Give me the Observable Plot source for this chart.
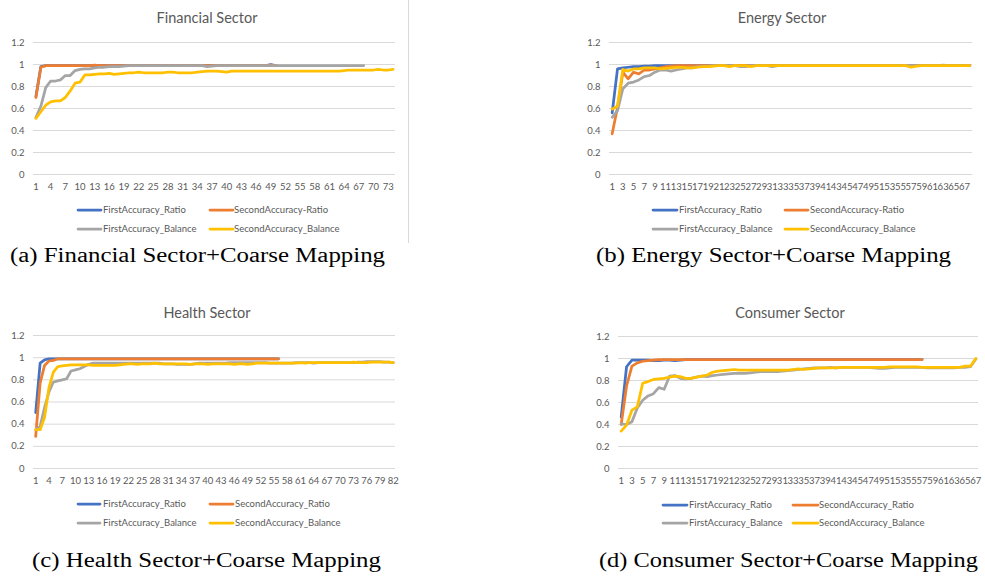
<!DOCTYPE html>
<html><head><meta charset="utf-8">
<script src="https://cdn.jsdelivr.net/npm/d3@7"></script>
<script src="https://cdn.jsdelivr.net/npm/@observablehq/plot@0.6"></script>
<style>
body{margin:0;background:#fff;}
#root{position:relative;width:985px;height:578px;overflow:hidden;background:#fff;}
#root > svg, #root > figure{position:absolute;margin:0;}
</style></head>
<body><div id="root"></div>
<script>
// ---------- shared ----------
const yTicks = [0, 0.2, 0.4, 0.6, 0.8, 1, 1.2];
const seriesColors = ["#4472C4", "#ED7D31", "#A5A5A5", "#FFC000"];

// ---------- (a) Financial ----------
const finTitle = "Financial Sector";
const finCaption = "(a) Financial Sector+Coarse Mapping";
const finLegend = ["FirstAccuracy_Ratio", "SecondAccuracy-Ratio", "FirstAccuracy_Balance", "SecondAccuracy_Balance"];
const finCount = 74;
const finTicks = [1,4,7,10,13,16,19,22,25,28,31,34,37,40,43,46,49,52,55,58,61,64,67,70,73];
const finFirstRatio = [0.71,0.98,0.99,0.99,0.99,0.99,0.99,0.99,0.99,0.99,
 0.99,0.99,0.99,0.99,0.99,0.99,0.99,0.99,0.99,0.99,
 0.99,0.99,0.99,0.99,0.99,0.99,0.99,0.99,0.99,0.99,
 0.99,0.99,0.99,0.99,0.99,0.99,0.99,0.99,0.99,0.99,
 0.99,0.99,0.99,0.99,0.99,0.99,0.99,0.99,1.0,0.99];
const finSecondRatio = [0.70,0.975,0.99,0.99,0.99,0.99,0.99,0.99,0.99,0.99,
 0.99,0.99,0.995,0.99,0.99,0.99,0.99,0.99,0.99,0.99,
 0.99,0.99,0.99,0.99,0.99,0.99,0.99,0.99,0.99,0.99,
 0.99,0.99,0.99,0.99,0.99,0.99,0.99,0.99,0.99,0.99,
 0.99,0.99,0.99,0.99,0.99,0.99,0.99,0.99,0.995,0.99];
const finFirstBalance = [0.52,0.62,0.79,0.85,0.85,0.86,0.90,0.90,0.945,0.955,
 0.96,0.96,0.97,0.975,0.975,0.98,0.98,0.98,0.985,0.99,
 0.99,0.99,0.99,0.99,0.99,0.99,0.99,0.99,0.99,0.99,
 0.99,0.99,0.99,0.99,0.99,0.98,0.985,0.99,0.99,0.99,
 0.99,0.99,0.99,0.99,0.99,0.99,0.99,0.99,0.99,0.99,
 0.99,0.99,0.99,0.99,0.99,0.99,0.99,0.99,0.99,0.99,
 0.99,0.99,0.99,0.99,0.99,0.99,0.99,0.99];
const finSecondBalance = [0.51,0.57,0.63,0.66,0.67,0.67,0.70,0.76,0.83,0.84,
 0.905,0.905,0.91,0.915,0.915,0.92,0.91,0.915,0.92,0.925,
 0.925,0.93,0.925,0.925,0.925,0.925,0.925,0.93,0.93,0.925,
 0.925,0.925,0.925,0.93,0.935,0.94,0.94,0.94,0.935,0.93,
 0.94,0.94,0.94,0.94,0.94,0.94,0.94,0.94,0.94,0.94,
 0.94,0.94,0.94,0.94,0.94,0.94,0.94,0.94,0.94,0.94,
 0.94,0.94,0.94,0.945,0.95,0.95,0.95,0.95,0.95,0.95,
 0.955,0.95,0.95,0.955];

// ---------- (b) Energy ----------
const enTitle = "Energy Sector";
const enCaption = "(b) Energy Sector+Coarse Mapping";
const enLegend = ["FirstAccuracy_Ratio", "SecondAccuracy-Ratio", "FirstAccuracy_Balance", "SecondAccuracy_Balance"];
const enCount = 68;
const enTicks = [1,3,5,7,9,11,13,15,17,19,21,23,25,27,29,31,33,35,37,39,41,43,45,47,49,51,53,55,57,59,61,63,65,67];
const enFirstRatio = [0.56,0.96,0.97,0.975,0.98,0.98,0.985,0.985,0.99,0.99,
 0.99,0.99,0.99,0.99,0.99,0.99,0.99,0.99,0.99,0.99,
 0.99,0.99,0.99,0.99,0.99,0.99,0.99,0.99,0.99,0.99,
 0.99,0.99,0.99,0.99,0.99,0.99,0.99,0.99,0.99,0.99,
 0.99,0.99,0.99,0.99,0.99,0.99,0.99,0.99,0.99,0.99,
 0.99,0.99,0.99,0.99,0.99,0.99,0.99,0.99,0.99,0.99,
 0.99,0.99,0.99,0.99,0.99,0.99,0.99,0.99];
const enSecondRatio = [0.37,0.61,0.93,0.87,0.93,0.915,0.95,0.95,0.96,0.97,
 0.98,0.985,0.99,0.99,0.99,0.99,0.99,0.99,0.99,0.99,
 0.99,0.99,0.99,0.99,0.99,0.99,0.99,0.99,0.99,0.99,
 0.99,0.99,0.99,0.99,0.99,0.99,0.99,0.99,0.99,0.99,
 0.99,0.99,0.99,0.99,0.99,0.99,0.99,0.99,0.99,0.99,
 0.99,0.99,0.99,0.99,0.99,0.99,0.99,0.99,0.99,0.99,
 0.99,0.99,0.99,0.99,0.99,0.99,0.99,0.99];
const enFirstBalance = [0.52,0.58,0.78,0.83,0.84,0.86,0.89,0.90,0.93,0.95,
 0.95,0.94,0.95,0.96,0.97,0.97,0.98,0.98,0.985,0.99,
 0.99,0.99,0.99,0.99,0.98,0.98,0.99,0.99,0.99,0.99,
 0.98,0.99,0.99,0.99,0.99,0.99,0.99,0.99,0.99,0.99,
 0.99,0.99,0.99,0.99,0.99,0.99,0.99,0.99,0.99,0.99,
 0.99,0.99,0.99,0.99,0.99,0.99,0.99,0.99,0.99,0.99,
 0.99,0.99,0.995,0.99,0.99,0.99,0.99,0.99];
const enSecondBalance = [0.595,0.62,0.955,0.94,0.96,0.96,0.97,0.97,0.97,0.96,
 0.965,0.97,0.975,0.975,0.97,0.97,0.975,0.98,0.98,0.985,
 0.99,0.99,0.98,0.99,0.99,0.99,0.98,0.99,0.99,0.99,
 0.99,0.99,0.99,0.99,0.99,0.99,0.99,0.99,0.99,0.99,
 0.99,0.99,0.99,0.99,0.99,0.99,0.99,0.99,0.99,0.99,
 0.99,0.99,0.99,0.99,0.99,0.99,0.975,0.985,0.99,0.99,
 0.99,0.99,0.99,0.99,0.99,0.99,0.99,0.99];

// ---------- (c) Health ----------
const heTitle = "Health Sector";
const heCaption = "(c) Health Sector+Coarse Mapping";
const heLegend = ["FirstAccuracy_Ratio", "SecondAccuracy_Ratio", "FirstAccuracy_Balance", "SecondAccuracy_Balance"];
const heCount = 82;
const heTicks = [1,4,7,10,13,16,19,22,25,28,31,34,37,40,43,46,49,52,55,58,61,64,67,70,73,76,79,82];
const heFirstRatio = [0.505,0.95,0.98,0.99,0.99,0.99,0.99,0.99,0.99,0.99,
 0.99,0.99,0.99,0.99,0.99,0.99,0.99,0.99,0.99,0.99,
 0.99,0.99,0.99,0.99,0.99,0.99,0.99,0.99,0.99,0.99,
 0.99,0.99,0.99,0.99,0.99,0.99,0.99,0.99,0.99,0.99,
 0.99,0.99,0.99,0.99,0.99,0.99,0.99,0.99,0.99,0.99,
 0.99,0.99,0.99,0.99,0.99,0.99];
const heSecondRatio = [0.29,0.77,0.93,0.97,0.975,0.99,0.99,0.99,0.99,0.99,
 0.99,0.99,0.99,0.99,0.99,0.99,0.99,0.99,0.99,0.99,
 0.99,0.99,0.99,0.99,0.99,0.99,0.99,0.99,0.99,0.99,
 0.99,0.99,0.99,0.99,0.99,0.99,0.99,0.99,0.99,0.99,
 0.99,0.99,0.99,0.99,0.99,0.99,0.99,0.99,0.99,0.99,
 0.99,0.99,0.99,0.99,0.99,0.99];
const heFirstBalance = [0.35,0.38,0.55,0.69,0.78,0.79,0.80,0.81,0.88,0.89,
 0.90,0.92,0.94,0.95,0.95,0.95,0.95,0.95,0.95,0.95,
 0.95,0.95,0.95,0.95,0.95,0.95,0.95,0.95,0.95,0.945,
 0.945,0.945,0.94,0.94,0.94,0.94,0.945,0.95,0.95,0.95,
 0.95,0.95,0.95,0.95,0.955,0.955,0.955,0.955,0.955,0.955,
 0.955,0.955,0.955,0.95,0.95,0.95,0.95,0.95,0.95,0.955,
 0.955,0.955,0.955,0.95,0.955,0.955,0.955,0.955,0.955,0.955,
 0.955,0.955,0.955,0.96,0.96,0.965,0.965,0.965,0.965,0.96,
 0.96,0.955];
const heSecondBalance = [0.35,0.35,0.46,0.73,0.87,0.92,0.925,0.93,0.935,0.935,
 0.935,0.935,0.935,0.93,0.93,0.93,0.93,0.93,0.93,0.935,
 0.94,0.945,0.945,0.94,0.945,0.945,0.945,0.95,0.945,0.945,
 0.945,0.945,0.945,0.945,0.945,0.94,0.945,0.945,0.945,0.94,
 0.945,0.945,0.945,0.945,0.945,0.94,0.945,0.945,0.94,0.945,
 0.95,0.95,0.95,0.95,0.95,0.95,0.95,0.95,0.95,0.95,
 0.955,0.95,0.955,0.955,0.955,0.955,0.955,0.955,0.955,0.955,
 0.955,0.955,0.96,0.955,0.955,0.955,0.96,0.96,0.96,0.96,
 0.96,0.955];

// ---------- (d) Consumer ----------
const coTitle = "Consumer Sector";
const coCaption = "(d) Consumer Sector+Coarse Mapping";
const coLegend = ["FirstAccuracy_Ratio", "SecondAccuracy_Ratio", "FirstAccuracy_Balance", "SecondAccuracy_Balance"];
const coCount = 67;
const coTicks = [1,3,5,7,9,11,13,15,17,19,21,23,25,27,29,31,33,35,37,39,41,43,45,47,49,51,53,55,57,59,61,63,65,67];
const coFirstRatio = [0.47,0.925,0.985,0.985,0.985,0.985,0.98,0.98,0.985,0.985,
 0.98,0.985,0.99,0.99,0.99,0.99,0.99,0.99,0.99,0.99,
 0.99,0.99,0.99,0.99,0.99,0.99,0.99,0.99,0.99,0.99,
 0.99,0.99,0.99,0.99,0.99,0.99,0.99,0.99,0.99,0.99,
 0.99,0.99,0.99,0.99,0.99,0.99,0.99,0.99,0.99,0.99,
 0.99,0.99,0.99,0.99,0.99,0.99,0.99];
const coSecondRatio = [0.40,0.75,0.93,0.96,0.975,0.98,0.985,0.99,0.99,0.99,
 0.99,0.99,0.99,0.99,0.99,0.99,0.99,0.99,0.99,0.99,
 0.99,0.99,0.99,0.99,0.99,0.99,0.99,0.99,0.99,0.99,
 0.99,0.99,0.99,0.99,0.99,0.99,0.99,0.99,0.99,0.99,
 0.99,0.99,0.99,0.99,0.99,0.99,0.99,0.99,0.99,0.99,
 0.99,0.99,0.99,0.99,0.99,0.99,0.99];
const coFirstBalance = [0.405,0.40,0.425,0.55,0.62,0.66,0.68,0.735,0.72,0.84,
 0.845,0.82,0.815,0.82,0.83,0.84,0.835,0.845,0.85,0.855,
 0.86,0.865,0.865,0.865,0.87,0.875,0.88,0.88,0.88,0.88,
 0.885,0.89,0.895,0.90,0.905,0.91,0.915,0.915,0.915,0.92,
 0.915,0.92,0.92,0.92,0.92,0.92,0.92,0.915,0.91,0.91,
 0.915,0.92,0.92,0.92,0.92,0.92,0.92,0.915,0.915,0.915,
 0.915,0.915,0.915,0.92,0.92,0.925,0.995];
const coSecondBalance = [0.34,0.395,0.53,0.56,0.775,0.79,0.81,0.815,0.82,0.83,
 0.84,0.835,0.82,0.82,0.83,0.84,0.85,0.875,0.885,0.89,
 0.895,0.90,0.895,0.895,0.895,0.895,0.895,0.895,0.895,0.895,
 0.895,0.895,0.90,0.905,0.90,0.905,0.91,0.915,0.915,0.915,
 0.915,0.92,0.92,0.92,0.92,0.92,0.92,0.92,0.92,0.92,
 0.925,0.925,0.925,0.925,0.925,0.925,0.92,0.92,0.92,0.92,
 0.92,0.92,0.92,0.92,0.93,0.93,1.0];

// ---------- layout ----------
const panels = [
  {title: finTitle, caption: finCaption, legend: finLegend, count: finCount, ticks: finTicks,
   series: [finFirstRatio, finSecondRatio, finFirstBalance, finSecondBalance],
   left: 0, top: 30, width: 405, height: 175, ml: 33, mr: 10, mt: 12, mb: 31,
   titleX: 207, titleY: 18, legRows: [210, 229], legCols: [[78, 101, 103], [210, 233, 234]],
   capX: 10, capW: 375, capBase: 262},
  {title: enTitle, caption: enCaption, legend: enLegend, count: enCount, ticks: enTicks,
   series: [enFirstRatio, enSecondRatio, enFirstBalance, enSecondBalance],
   left: 560, top: 30, width: 420, height: 175, ml: 49, mr: 8, mt: 12, mb: 31,
   titleX: 782, titleY: 18, legRows: [210, 229], legCols: [[653, 677, 679], [785, 808, 810]],
   capX: 596, capW: 355, capBase: 262},
  {title: heTitle, caption: heCaption, legend: heLegend, count: heCount, ticks: heTicks,
   series: [heFirstRatio, heSecondRatio, heFirstBalance, heSecondBalance],
   left: 0, top: 320, width: 405, height: 180, ml: 33, mr: 10, mt: 15, mb: 32,
   titleX: 207, titleY: 313, legRows: [504, 523], legCols: [[78, 100, 103], [210, 233, 235]],
   capX: 32, capW: 349, capBase: 567},
  {title: coTitle, caption: coCaption, legend: coLegend, count: coCount, ticks: coTicks,
   series: [coFirstRatio, coSecondRatio, coFirstBalance, coSecondBalance],
   left: 560, top: 320, width: 425, height: 180, ml: 58, mr: 7, mt: 16, mb: 32,
   titleX: 790, titleY: 313, legRows: [505, 523], legCols: [[663, 687, 689], [793, 818, 819]],
   capX: 599, capW: 379, capBase: 567}
];

const root = document.getElementById("root");
const sansFont = "Lato, 'Open Sans', 'Liberation Sans', sans-serif";

for (const p of panels) {
  const chart = Plot.plot({
    width: p.width, height: p.height,
    marginLeft: p.ml, marginRight: p.mr, marginTop: p.mt, marginBottom: p.mb,
    style: {fontFamily: sansFont, fontSize: "9.5px", color: "#595959", background: "transparent", overflow: "visible"},
    x: {type: "linear", domain: [0.5, p.count + 0.5]},
    y: {domain: [0, 1.2]},
    marks: [
      Plot.ruleY(yTicks, {stroke: "#d9d9d9", strokeWidth: 1}),
      Plot.axisY({ticks: yTicks, tickSize: 0, tickPadding: 9, tickFormat: d => String(d), label: null}),
      Plot.axisX({ticks: p.ticks, tickSize: 0, tickPadding: 9, tickFormat: d => String(d), label: null}),
      ...p.series.map((vals, k) => Plot.line(vals, {x: (d, i) => i + 1, y: d => d, stroke: seriesColors[k], strokeWidth: 2.75}))
    ]
  });
  chart.style.left = p.left + "px";
  chart.style.top = p.top + "px";
  root.appendChild(chart);
}

// overlay: titles, legends, captions, separator
const ov = d3.select(root).append("svg")
  .attr("width", 985).attr("height", 578)
  .style("position", "absolute").style("left", "0px").style("top", "0px");

ov.append("line").attr("x1", 408.5).attr("x2", 408.5).attr("y1", 0).attr("y2", 243)
  .attr("stroke", "#d9d9d9").attr("stroke-width", 1);

for (const p of panels) {
  ov.append("text").attr("x", p.titleX).attr("y", p.titleY).attr("dy", "0.35em")
    .attr("text-anchor", "middle").attr("fill", "#595959")
    .style("font-family", sansFont).style("font-size", "14.5px").text(p.title);
  p.legend.forEach((name, k) => {
    const row = p.legRows[Math.floor(k / 2)];
    const col = p.legCols[k % 2];
    ov.append("line").attr("x1", col[0]).attr("x2", col[1]).attr("y1", row).attr("y2", row)
      .attr("stroke", seriesColors[k]).attr("stroke-width", 2.75).attr("stroke-linecap", "round");
    ov.append("text").attr("x", col[2]).attr("y", row).attr("dy", "0.35em")
      .attr("fill", "#595959").style("font-family", sansFont).style("font-size", "9.5px").text(name);
  });
  ov.append("text").attr("x", p.capX).attr("y", p.capBase)
    .attr("textLength", p.capW).attr("lengthAdjust", "spacingAndGlyphs")
    .attr("fill", "#000").style("font-family", "'Liberation Serif', 'DejaVu Serif', serif")
    .style("font-size", "20px").text(p.caption);
}
</script></body></html>
